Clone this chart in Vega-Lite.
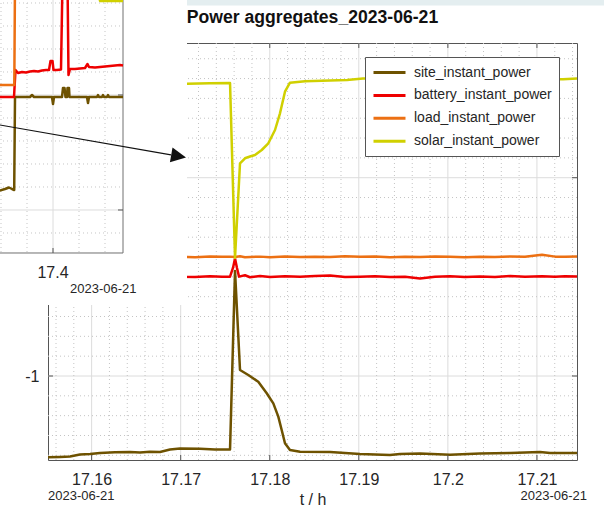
{
  "$schema": "https://vega.github.io/schema/vega-lite/v6.json",
  "width": 529,
  "height": 417,
  "autosize": {"type": "none"},
  "padding": {"left": 48, "top": 43, "right": 27, "bottom": 49},
  "background": "white",
  "config": {"view": {"stroke": "#555555", "strokeWidth": 1}, "font": "Liberation Sans"},
  "datasets": {
    "main": [
      {"series": "site_instant_power", "t": 17.15510, "v": -1.410},
      {"series": "site_instant_power", "t": 17.15645, "v": -1.408},
      {"series": "site_instant_power", "t": 17.15757, "v": -1.406},
      {"series": "site_instant_power", "t": 17.15869, "v": -1.396},
      {"series": "site_instant_power", "t": 17.15982, "v": -1.393},
      {"series": "site_instant_power", "t": 17.16094, "v": -1.388},
      {"series": "site_instant_power", "t": 17.16262, "v": -1.385},
      {"series": "site_instant_power", "t": 17.16431, "v": -1.383},
      {"series": "site_instant_power", "t": 17.16543, "v": -1.386},
      {"series": "site_instant_power", "t": 17.16655, "v": -1.382},
      {"series": "site_instant_power", "t": 17.16768, "v": -1.383},
      {"series": "site_instant_power", "t": 17.16880, "v": -1.371},
      {"series": "site_instant_power", "t": 17.16992, "v": -1.366},
      {"series": "site_instant_power", "t": 17.17217, "v": -1.367},
      {"series": "site_instant_power", "t": 17.17385, "v": -1.371},
      {"series": "site_instant_power", "t": 17.17554, "v": -1.371},
      {"series": "site_instant_power", "t": 17.17610, "v": -0.470},
      {"series": "site_instant_power", "t": 17.17666, "v": -0.970},
      {"series": "site_instant_power", "t": 17.17759, "v": -0.995},
      {"series": "site_instant_power", "t": 17.17871, "v": -1.029},
      {"series": "site_instant_power", "t": 17.17966, "v": -1.087},
      {"series": "site_instant_power", "t": 17.18040, "v": -1.138},
      {"series": "site_instant_power", "t": 17.18096, "v": -1.205},
      {"series": "site_instant_power", "t": 17.18134, "v": -1.272},
      {"series": "site_instant_power", "t": 17.18171, "v": -1.339},
      {"series": "site_instant_power", "t": 17.18227, "v": -1.373},
      {"series": "site_instant_power", "t": 17.18340, "v": -1.382},
      {"series": "site_instant_power", "t": 17.18677, "v": -1.383},
      {"series": "site_instant_power", "t": 17.19013, "v": -1.393},
      {"series": "site_instant_power", "t": 17.19182, "v": -1.396},
      {"series": "site_instant_power", "t": 17.19350, "v": -1.398},
      {"series": "site_instant_power", "t": 17.19463, "v": -1.393},
      {"series": "site_instant_power", "t": 17.19687, "v": -1.391},
      {"series": "site_instant_power", "t": 17.20024, "v": -1.397},
      {"series": "site_instant_power", "t": 17.20361, "v": -1.391},
      {"series": "site_instant_power", "t": 17.20698, "v": -1.388},
      {"series": "site_instant_power", "t": 17.21035, "v": -1.383},
      {"series": "site_instant_power", "t": 17.21147, "v": -1.388},
      {"series": "site_instant_power", "t": 17.21450, "v": -1.388},
      {"series": "battery_instant_power", "t": 17.15510, "v": -0.497},
      {"series": "battery_instant_power", "t": 17.15645, "v": -0.501},
      {"series": "battery_instant_power", "t": 17.15813, "v": -0.496},
      {"series": "battery_instant_power", "t": 17.15982, "v": -0.500},
      {"series": "battery_instant_power", "t": 17.16150, "v": -0.498},
      {"series": "battery_instant_power", "t": 17.16319, "v": -0.502},
      {"series": "battery_instant_power", "t": 17.16487, "v": -0.497},
      {"series": "battery_instant_power", "t": 17.16655, "v": -0.500},
      {"series": "battery_instant_power", "t": 17.16824, "v": -0.495},
      {"series": "battery_instant_power", "t": 17.16992, "v": -0.499},
      {"series": "battery_instant_power", "t": 17.17161, "v": -0.501},
      {"series": "battery_instant_power", "t": 17.17329, "v": -0.497},
      {"series": "battery_instant_power", "t": 17.17464, "v": -0.500},
      {"series": "battery_instant_power", "t": 17.17554, "v": -0.499},
      {"series": "battery_instant_power", "t": 17.17587, "v": -0.455},
      {"series": "battery_instant_power", "t": 17.17610, "v": -0.408},
      {"series": "battery_instant_power", "t": 17.17632, "v": -0.455},
      {"series": "battery_instant_power", "t": 17.17655, "v": -0.499},
      {"series": "battery_instant_power", "t": 17.17722, "v": -0.492},
      {"series": "battery_instant_power", "t": 17.17778, "v": -0.502},
      {"series": "battery_instant_power", "t": 17.17891, "v": -0.496},
      {"series": "battery_instant_power", "t": 17.18003, "v": -0.501},
      {"series": "battery_instant_power", "t": 17.18171, "v": -0.497},
      {"series": "battery_instant_power", "t": 17.18340, "v": -0.500},
      {"series": "battery_instant_power", "t": 17.18508, "v": -0.496},
      {"series": "battery_instant_power", "t": 17.18677, "v": -0.493},
      {"series": "battery_instant_power", "t": 17.18845, "v": -0.501},
      {"series": "battery_instant_power", "t": 17.19013, "v": -0.499},
      {"series": "battery_instant_power", "t": 17.19182, "v": -0.497},
      {"series": "battery_instant_power", "t": 17.19350, "v": -0.501},
      {"series": "battery_instant_power", "t": 17.19519, "v": -0.499},
      {"series": "battery_instant_power", "t": 17.19687, "v": -0.508},
      {"series": "battery_instant_power", "t": 17.19856, "v": -0.500},
      {"series": "battery_instant_power", "t": 17.20024, "v": -0.497},
      {"series": "battery_instant_power", "t": 17.20193, "v": -0.501},
      {"series": "battery_instant_power", "t": 17.20361, "v": -0.498},
      {"series": "battery_instant_power", "t": 17.20529, "v": -0.501},
      {"series": "battery_instant_power", "t": 17.20698, "v": -0.496},
      {"series": "battery_instant_power", "t": 17.20866, "v": -0.500},
      {"series": "battery_instant_power", "t": 17.21057, "v": -0.497},
      {"series": "battery_instant_power", "t": 17.21203, "v": -0.500},
      {"series": "battery_instant_power", "t": 17.21315, "v": -0.497},
      {"series": "battery_instant_power", "t": 17.21450, "v": -0.498},
      {"series": "load_instant_power", "t": 17.15510, "v": -0.399},
      {"series": "load_instant_power", "t": 17.15645, "v": -0.396},
      {"series": "load_instant_power", "t": 17.15813, "v": -0.400},
      {"series": "load_instant_power", "t": 17.15982, "v": -0.397},
      {"series": "load_instant_power", "t": 17.16150, "v": -0.401},
      {"series": "load_instant_power", "t": 17.16319, "v": -0.397},
      {"series": "load_instant_power", "t": 17.16487, "v": -0.399},
      {"series": "load_instant_power", "t": 17.16655, "v": -0.396},
      {"series": "load_instant_power", "t": 17.16824, "v": -0.400},
      {"series": "load_instant_power", "t": 17.16992, "v": -0.398},
      {"series": "load_instant_power", "t": 17.17161, "v": -0.401},
      {"series": "load_instant_power", "t": 17.17329, "v": -0.397},
      {"series": "load_instant_power", "t": 17.17464, "v": -0.399},
      {"series": "load_instant_power", "t": 17.17554, "v": -0.398},
      {"series": "load_instant_power", "t": 17.17610, "v": -0.400},
      {"series": "load_instant_power", "t": 17.17666, "v": -0.396},
      {"series": "load_instant_power", "t": 17.17722, "v": -0.401},
      {"series": "load_instant_power", "t": 17.17891, "v": -0.398},
      {"series": "load_instant_power", "t": 17.18003, "v": -0.401},
      {"series": "load_instant_power", "t": 17.18171, "v": -0.397},
      {"series": "load_instant_power", "t": 17.18340, "v": -0.400},
      {"series": "load_instant_power", "t": 17.18508, "v": -0.398},
      {"series": "load_instant_power", "t": 17.18677, "v": -0.400},
      {"series": "load_instant_power", "t": 17.18845, "v": -0.396},
      {"series": "load_instant_power", "t": 17.19013, "v": -0.399},
      {"series": "load_instant_power", "t": 17.19182, "v": -0.397},
      {"series": "load_instant_power", "t": 17.19350, "v": -0.401},
      {"series": "load_instant_power", "t": 17.19519, "v": -0.398},
      {"series": "load_instant_power", "t": 17.19687, "v": -0.400},
      {"series": "load_instant_power", "t": 17.19856, "v": -0.397},
      {"series": "load_instant_power", "t": 17.20024, "v": -0.399},
      {"series": "load_instant_power", "t": 17.20193, "v": -0.401},
      {"series": "load_instant_power", "t": 17.20361, "v": -0.398},
      {"series": "load_instant_power", "t": 17.20529, "v": -0.400},
      {"series": "load_instant_power", "t": 17.20698, "v": -0.397},
      {"series": "load_instant_power", "t": 17.20866, "v": -0.399},
      {"series": "load_instant_power", "t": 17.21057, "v": -0.388},
      {"series": "load_instant_power", "t": 17.21203, "v": -0.398},
      {"series": "load_instant_power", "t": 17.21315, "v": -0.399},
      {"series": "load_instant_power", "t": 17.21450, "v": -0.397},
      {"series": "solar_instant_power", "t": 17.15510, "v": 0.468},
      {"series": "solar_instant_power", "t": 17.16094, "v": 0.470},
      {"series": "solar_instant_power", "t": 17.16655, "v": 0.472},
      {"series": "solar_instant_power", "t": 17.17071, "v": 0.474},
      {"series": "solar_instant_power", "t": 17.17329, "v": 0.476},
      {"series": "solar_instant_power", "t": 17.17554, "v": 0.478},
      {"series": "solar_instant_power", "t": 17.17610, "v": -0.405},
      {"series": "solar_instant_power", "t": 17.17666, "v": 0.0726},
      {"series": "solar_instant_power", "t": 17.17722, "v": 0.098},
      {"series": "solar_instant_power", "t": 17.17778, "v": 0.107},
      {"series": "solar_instant_power", "t": 17.17834, "v": 0.1145},
      {"series": "solar_instant_power", "t": 17.17910, "v": 0.1397},
      {"series": "solar_instant_power", "t": 17.17984, "v": 0.1735},
      {"series": "solar_instant_power", "t": 17.18059, "v": 0.2405},
      {"series": "solar_instant_power", "t": 17.18115, "v": 0.3248},
      {"series": "solar_instant_power", "t": 17.18171, "v": 0.4337},
      {"series": "solar_instant_power", "t": 17.18227, "v": 0.479},
      {"series": "solar_instant_power", "t": 17.18396, "v": 0.487},
      {"series": "solar_instant_power", "t": 17.18677, "v": 0.490},
      {"series": "solar_instant_power", "t": 17.18868, "v": 0.493},
      {"series": "solar_instant_power", "t": 17.19047, "v": 0.500},
      {"series": "solar_instant_power", "t": 17.20024, "v": 0.500},
      {"series": "solar_instant_power", "t": 17.21293, "v": 0.496},
      {"series": "solar_instant_power", "t": 17.21450, "v": 0.500}
    ],
    "inset": [
      {"series": "site_instant_power", "ti": 17.35769, "vi": -0.83478},
      {"series": "site_instant_power", "ti": 17.36308, "vi": -0.81739},
      {"series": "site_instant_power", "ti": 17.36615, "vi": -0.80435},
      {"series": "site_instant_power", "ti": 17.36846, "vi": -0.81739},
      {"series": "site_instant_power", "ti": 17.37015, "vi": -0.82609},
      {"series": "site_instant_power", "ti": 17.37077, "vi": -0.01739},
      {"series": "site_instant_power", "ti": 17.38231, "vi": -0.01739},
      {"series": "site_instant_power", "ti": 17.38385, "vi": 0.0},
      {"series": "site_instant_power", "ti": 17.38538, "vi": -0.01739},
      {"series": "site_instant_power", "ti": 17.39923, "vi": -0.01739},
      {"series": "site_instant_power", "ti": 17.40000, "vi": -0.07826},
      {"series": "site_instant_power", "ti": 17.40077, "vi": -0.01739},
      {"series": "site_instant_power", "ti": 17.40692, "vi": -0.01739},
      {"series": "site_instant_power", "ti": 17.40769, "vi": 0.06087},
      {"series": "site_instant_power", "ti": 17.40885, "vi": 0.06087},
      {"series": "site_instant_power", "ti": 17.40962, "vi": -0.01739},
      {"series": "site_instant_power", "ti": 17.41077, "vi": -0.01739},
      {"series": "site_instant_power", "ti": 17.41115, "vi": 0.06087},
      {"series": "site_instant_power", "ti": 17.41231, "vi": 0.06087},
      {"series": "site_instant_power", "ti": 17.41269, "vi": -0.01739},
      {"series": "site_instant_power", "ti": 17.42615, "vi": -0.01739},
      {"series": "site_instant_power", "ti": 17.42692, "vi": -0.06957},
      {"series": "site_instant_power", "ti": 17.42769, "vi": -0.01739},
      {"series": "site_instant_power", "ti": 17.43385, "vi": -0.01739},
      {"series": "site_instant_power", "ti": 17.43462, "vi": 0.0},
      {"series": "site_instant_power", "ti": 17.43538, "vi": -0.01739},
      {"series": "site_instant_power", "ti": 17.43769, "vi": -0.01739},
      {"series": "site_instant_power", "ti": 17.43846, "vi": 0.0},
      {"series": "site_instant_power", "ti": 17.43923, "vi": -0.01739},
      {"series": "site_instant_power", "ti": 17.44154, "vi": -0.01739},
      {"series": "site_instant_power", "ti": 17.44231, "vi": 0.0},
      {"series": "site_instant_power", "ti": 17.44308, "vi": -0.01739},
      {"series": "site_instant_power", "ti": 17.45385, "vi": -0.01739},
      {"series": "battery_instant_power", "ti": 17.35769, "vi": -0.01739},
      {"series": "battery_instant_power", "ti": 17.37000, "vi": -0.01739},
      {"series": "battery_instant_power", "ti": 17.37115, "vi": 0.21739},
      {"series": "battery_instant_power", "ti": 17.37308, "vi": 0.19130},
      {"series": "battery_instant_power", "ti": 17.37615, "vi": 0.20000},
      {"series": "battery_instant_power", "ti": 17.37923, "vi": 0.19565},
      {"series": "battery_instant_power", "ti": 17.38231, "vi": 0.20435},
      {"series": "battery_instant_power", "ti": 17.38538, "vi": 0.20870},
      {"series": "battery_instant_power", "ti": 17.38846, "vi": 0.20435},
      {"series": "battery_instant_power", "ti": 17.39154, "vi": 0.21304},
      {"series": "battery_instant_power", "ti": 17.39462, "vi": 0.21739},
      {"series": "battery_instant_power", "ti": 17.39692, "vi": 0.21739},
      {"series": "battery_instant_power", "ti": 17.39808, "vi": 0.29565},
      {"series": "battery_instant_power", "ti": 17.39962, "vi": 0.29565},
      {"series": "battery_instant_power", "ti": 17.40038, "vi": 0.21739},
      {"series": "battery_instant_power", "ti": 17.40308, "vi": 0.21739},
      {"series": "battery_instant_power", "ti": 17.40615, "vi": 0.22174},
      {"series": "battery_instant_power", "ti": 17.40731, "vi": 1.0},
      {"series": "battery_instant_power", "ti": 17.41115, "vi": 1.0},
      {"series": "battery_instant_power", "ti": 17.41192, "vi": 0.17391},
      {"series": "battery_instant_power", "ti": 17.41308, "vi": 0.22609},
      {"series": "battery_instant_power", "ti": 17.41692, "vi": 0.22609},
      {"series": "battery_instant_power", "ti": 17.42077, "vi": 0.23043},
      {"series": "battery_instant_power", "ti": 17.42462, "vi": 0.23478},
      {"series": "battery_instant_power", "ti": 17.42654, "vi": 0.26957},
      {"series": "battery_instant_power", "ti": 17.42769, "vi": 0.24348},
      {"series": "battery_instant_power", "ti": 17.43231, "vi": 0.23913},
      {"series": "battery_instant_power", "ti": 17.43615, "vi": 0.24348},
      {"series": "battery_instant_power", "ti": 17.44000, "vi": 0.24783},
      {"series": "battery_instant_power", "ti": 17.44385, "vi": 0.25217},
      {"series": "battery_instant_power", "ti": 17.44769, "vi": 0.25652},
      {"series": "battery_instant_power", "ti": 17.45154, "vi": 0.26087},
      {"series": "battery_instant_power", "ti": 17.45385, "vi": 0.25652},
      {"series": "load_instant_power", "ti": 17.35769, "vi": 0.08696},
      {"series": "load_instant_power", "ti": 17.37023, "vi": 0.08696},
      {"series": "load_instant_power", "ti": 17.37077, "vi": 1.0},
      {"series": "solar_instant_power", "ti": 17.43462, "vi": 1.0},
      {"series": "solar_instant_power", "ti": 17.43615, "vi": 0.81739},
      {"series": "solar_instant_power", "ti": 17.45385, "vi": 0.81739}
    ],
    "mgx": [
      {"t": 17.156}, {"t": 17.158}, {"t": 17.162}, {"t": 17.164}, {"t": 17.166}, {"t": 17.168},
      {"t": 17.172}, {"t": 17.174}, {"t": 17.176}, {"t": 17.178}, {"t": 17.182}, {"t": 17.184},
      {"t": 17.186}, {"t": 17.188}, {"t": 17.192}, {"t": 17.194}, {"t": 17.196}, {"t": 17.198},
      {"t": 17.202}, {"t": 17.204}, {"t": 17.206}, {"t": 17.208}, {"t": 17.212}, {"t": 17.214}
    ],
    "mgy": [
      {"v": -1.4}, {"v": -1.3}, {"v": -1.2}, {"v": -1.1}, {"v": -0.9}, {"v": -0.8}, {"v": -0.7},
      {"v": -0.6}, {"v": -0.5}, {"v": -0.4}, {"v": -0.3}, {"v": -0.2}, {"v": -0.1}, {"v": 0.1},
      {"v": 0.2}, {"v": 0.3}, {"v": 0.4}, {"v": 0.5}, {"v": 0.6}
    ],
    "majx": [{"t": 17.16}, {"t": 17.17}, {"t": 17.18}, {"t": 17.19}, {"t": 17.2}, {"t": 17.21}],
    "majy": [{"v": -1}, {"v": 0}],
    "igx": [{"ti": 17.36}, {"ti": 17.38}, {"ti": 17.42}, {"ti": 17.44}],
    "igxm": [{"ti": 17.4}],
    "igy": [{"vi": -1.2}, {"vi": -0.8}, {"vi": -0.6}, {"vi": -0.4}, {"vi": -0.2}, {"vi": 0.2}, {"vi": 0.4}, {"vi": 0.6}, {"vi": 0.8}],
    "igym": [{"vi": -1}, {"vi": 0}],
    "one": [{}]
  },
  "layer": [
    {
      "data": {"name": "majx"},
      "mark": {"type": "rule", "stroke": "#dcdcdc", "strokeWidth": 1},
      "encoding": {
        "x": {"field": "t", "type": "quantitative", "scale": {"domain": [17.1551, 17.2145], "nice": false, "zero": false}, "axis": null}
      }
    },
    {
      "data": {"name": "majy"},
      "mark": {"type": "rule", "stroke": "#dcdcdc", "strokeWidth": 1},
      "encoding": {
        "y": {"field": "v", "type": "quantitative", "scale": {"domain": [-1.4236, 0.6793], "nice": false, "zero": false}, "axis": null}
      }
    },
    {
      "data": {"name": "mgx"},
      "mark": {"type": "rule", "stroke": "#c4c4c4", "strokeDash": [1, 3], "strokeWidth": 1},
      "encoding": {
        "x": {"field": "t", "type": "quantitative", "scale": {"domain": [17.1551, 17.2145], "nice": false, "zero": false}, "axis": null}
      }
    },
    {
      "data": {"name": "mgy"},
      "mark": {"type": "rule", "stroke": "#c4c4c4", "strokeDash": [1, 3], "strokeWidth": 1},
      "encoding": {
        "y": {"field": "v", "type": "quantitative", "scale": {"domain": [-1.4236, 0.6793], "nice": false, "zero": false}, "axis": null}
      }
    },
    {
      "data": {"name": "main"},
      "mark": {"type": "line", "strokeWidth": 2.5, "strokeJoin": "round"},
      "encoding": {
        "x": {
          "field": "t", "type": "quantitative",
          "scale": {"domain": [17.1551, 17.2145], "nice": false, "zero": false},
          "axis": {
            "orient": "bottom",
            "values": [17.16, 17.17, 17.18, 17.19, 17.2, 17.21],
            "labelExpr": "format(datum.value, '.2~f')",
            "ticks": false, "domain": false, "grid": false,
            "labelFont": "Liberation Sans", "labelFontSize": 16, "labelColor": "#262626",
            "labelPadding": 11.5,
            "title": "t / h", "titleFont": "Liberation Sans", "titleFontSize": 16,
            "titleFontWeight": "normal", "titleColor": "#262626", "titlePadding": 4
          }
        },
        "y": {
          "field": "v", "type": "quantitative",
          "scale": {"domain": [-1.4236, 0.6793], "nice": false, "zero": false},
          "axis": {
            "orient": "left",
            "values": [-1, 0],
            "labelExpr": "'' + datum.value",
            "ticks": false, "domain": false, "grid": false,
            "labelFont": "Liberation Sans", "labelFontSize": 16, "labelColor": "#262626",
            "labelPadding": 9, "title": null
          }
        },
        "color": {
          "field": "series", "type": "nominal",
          "scale": {
            "domain": ["site_instant_power", "battery_instant_power", "load_instant_power", "solar_instant_power"],
            "range": ["#6e5200", "#ee0000", "#ec7013", "#d0d000"]
          },
          "legend": {
            "orient": "none", "legendX": 317, "legendY": 14, "title": null,
            "fillColor": "white", "strokeColor": "#555555", "padding": 7,
            "symbolType": "M-1,0L3.571,0", "symbolSize": 196, "symbolStrokeWidth": 3,
            "labelFont": "Liberation Sans", "labelFontSize": 14, "labelColor": "#262626",
            "labelOffset": 25, "rowPadding": 6.9, "labelLimit": 300
          }
        }
      }
    },
    {
      "data": {"name": "majx"},
      "mark": {"type": "rule", "stroke": "#555555", "strokeWidth": 1},
      "encoding": {
        "x": {"field": "t", "type": "quantitative", "scale": {"domain": [17.1551, 17.2145], "nice": false, "zero": false}, "axis": null},
        "y": {"datum": -1.4236, "scale": {"domain": [-1.4236, 0.6793], "nice": false, "zero": false}, "axis": null},
        "y2": {"datum": -1.3984}
      }
    },
    {
      "data": {"name": "majx"},
      "mark": {"type": "rule", "stroke": "#555555", "strokeWidth": 1},
      "encoding": {
        "x": {"field": "t", "type": "quantitative", "scale": {"domain": [17.1551, 17.2145], "nice": false, "zero": false}, "axis": null},
        "y": {"datum": 0.6793, "scale": {"domain": [-1.4236, 0.6793], "nice": false, "zero": false}, "axis": null},
        "y2": {"datum": 0.6541}
      }
    },
    {
      "data": {"name": "majy"},
      "mark": {"type": "rule", "stroke": "#555555", "strokeWidth": 1},
      "encoding": {
        "y": {"field": "v", "type": "quantitative", "scale": {"domain": [-1.4236, 0.6793], "nice": false, "zero": false}, "axis": null},
        "x": {"datum": 17.2145, "scale": {"domain": [17.1551, 17.2145], "nice": false, "zero": false}, "axis": null},
        "x2": {"datum": 17.21394}
      }
    },
    {
      "data": {"name": "majy"},
      "mark": {"type": "rule", "stroke": "#555555", "strokeWidth": 1},
      "encoding": {
        "y": {"field": "v", "type": "quantitative", "scale": {"domain": [-1.4236, 0.6793], "nice": false, "zero": false}, "axis": null},
        "x": {"datum": 17.1551, "scale": {"domain": [17.1551, 17.2145], "nice": false, "zero": false}, "axis": null},
        "x2": {"datum": 17.15566}
      }
    },
    {
      "data": {"name": "one"},
      "mark": {"type": "text", "text": "Power aggregates_2023-06-21", "font": "Liberation Sans", "fontSize": 17.6, "fontWeight": "bold", "align": "center", "baseline": "alphabetic", "color": "#111111"},
      "encoding": {
        "x": {"datum": 17.1848, "scale": {"domain": [17.1551, 17.2145], "nice": false, "zero": false}, "axis": null},
        "y": {"datum": 0.7817, "scale": {"domain": [-1.4236, 0.6793], "nice": false, "zero": false}, "axis": null}
      }
    },
    {
      "data": {"name": "one"},
      "mark": {"type": "text", "text": "2023-06-21", "font": "Liberation Sans", "fontSize": 13, "align": "left", "baseline": "alphabetic", "color": "#262626"},
      "encoding": {
        "x": {"datum": 17.1551, "scale": {"domain": [17.1551, 17.2145], "nice": false, "zero": false}, "axis": null},
        "y": {"datum": -1.6228, "scale": {"domain": [-1.4236, 0.6793], "nice": false, "zero": false}, "axis": null}
      }
    },
    {
      "data": {"name": "one"},
      "mark": {"type": "text", "text": "2023-06-21", "font": "Liberation Sans", "fontSize": 13, "align": "right", "baseline": "alphabetic", "color": "#262626"},
      "encoding": {
        "x": {"datum": 17.21562, "scale": {"domain": [17.1551, 17.2145], "nice": false, "zero": false}, "axis": null},
        "y": {"datum": -1.6228, "scale": {"domain": [-1.4236, 0.6793], "nice": false, "zero": false}, "axis": null}
      }
    },
    {
      "data": {"name": "one"},
      "mark": {"type": "rect", "fill": "white"},
      "encoding": {
        "x": {"datum": 17.35538, "scale": {"domain": [17.39615, 17.80308], "nice": false, "zero": false}, "axis": null},
        "x2": {"datum": 17.50308},
        "y": {"datum": 0.86957, "scale": {"domain": [-3.17391, 0.45217], "nice": false, "zero": false}, "axis": null},
        "y2": {"datum": -1.82609}
      }
    },
    {
      "data": {"name": "one"},
      "mark": {"type": "rect", "fill": "#e4eef0"},
      "encoding": {
        "x": {"datum": 17.50308, "scale": {"domain": [17.39615, 17.80308], "nice": false, "zero": false}, "axis": null},
        "x2": {"datum": 17.82846},
        "y": {"datum": 0.86957, "scale": {"domain": [-3.17391, 0.45217], "nice": false, "zero": false}, "axis": null},
        "y2": {"datum": 0.77826}
      }
    },
    {
      "data": {"name": "igx"},
      "mark": {"type": "rule", "stroke": "#c4c4c4", "strokeDash": [1, 3], "strokeWidth": 1},
      "encoding": {
        "x": {"field": "ti", "type": "quantitative", "scale": {"domain": [17.39615, 17.80308], "nice": false, "zero": false}, "axis": null},
        "y": {"datum": 0.86957, "scale": {"domain": [-3.17391, 0.45217], "nice": false, "zero": false}, "axis": null},
        "y2": {"datum": -1.37391}
      }
    },
    {
      "data": {"name": "igxm"},
      "mark": {"type": "rule", "stroke": "#dcdcdc", "strokeWidth": 1},
      "encoding": {
        "x": {"field": "ti", "type": "quantitative", "scale": {"domain": [17.39615, 17.80308], "nice": false, "zero": false}, "axis": null},
        "y": {"datum": 0.86957, "scale": {"domain": [-3.17391, 0.45217], "nice": false, "zero": false}, "axis": null},
        "y2": {"datum": -1.37391}
      }
    },
    {
      "data": {"name": "igy"},
      "mark": {"type": "rule", "stroke": "#c4c4c4", "strokeDash": [1, 3], "strokeWidth": 1},
      "encoding": {
        "y": {"field": "vi", "type": "quantitative", "scale": {"domain": [-3.17391, 0.45217], "nice": false, "zero": false}, "axis": null},
        "x": {"datum": 17.35538, "scale": {"domain": [17.39615, 17.80308], "nice": false, "zero": false}, "axis": null},
        "x2": {"datum": 17.45385}
      }
    },
    {
      "data": {"name": "igym"},
      "mark": {"type": "rule", "stroke": "#dcdcdc", "strokeWidth": 1},
      "encoding": {
        "y": {"field": "vi", "type": "quantitative", "scale": {"domain": [-3.17391, 0.45217], "nice": false, "zero": false}, "axis": null},
        "x": {"datum": 17.35538, "scale": {"domain": [17.39615, 17.80308], "nice": false, "zero": false}, "axis": null},
        "x2": {"datum": 17.45385}
      }
    },
    {
      "data": {"name": "one"},
      "mark": {"type": "rule", "stroke": "#707070", "strokeWidth": 1},
      "encoding": {
        "x": {"datum": 17.45385, "scale": {"domain": [17.39615, 17.80308], "nice": false, "zero": false}, "axis": null},
        "y": {"datum": 0.86957, "scale": {"domain": [-3.17391, 0.45217], "nice": false, "zero": false}, "axis": null},
        "y2": {"datum": -1.37391}
      }
    },
    {
      "data": {"name": "one"},
      "mark": {"type": "rule", "stroke": "#707070", "strokeWidth": 1},
      "encoding": {
        "x": {"datum": 17.35538, "scale": {"domain": [17.39615, 17.80308], "nice": false, "zero": false}, "axis": null},
        "x2": {"datum": 17.45385},
        "y": {"datum": -1.37391, "scale": {"domain": [-3.17391, 0.45217], "nice": false, "zero": false}, "axis": null}
      }
    },
    {
      "data": {"name": "igxm"},
      "mark": {"type": "rule", "stroke": "#555555", "strokeWidth": 1},
      "encoding": {
        "x": {"field": "ti", "type": "quantitative", "scale": {"domain": [17.39615, 17.80308], "nice": false, "zero": false}, "axis": null},
        "y": {"datum": -1.37391, "scale": {"domain": [-3.17391, 0.45217], "nice": false, "zero": false}, "axis": null},
        "y2": {"datum": -1.33043}
      }
    },
    {
      "data": {"name": "igym"},
      "mark": {"type": "rule", "stroke": "#555555", "strokeWidth": 1},
      "encoding": {
        "y": {"field": "vi", "type": "quantitative", "scale": {"domain": [-3.17391, 0.45217], "nice": false, "zero": false}, "axis": null},
        "x": {"datum": 17.45385, "scale": {"domain": [17.39615, 17.80308], "nice": false, "zero": false}, "axis": null},
        "x2": {"datum": 17.45}
      }
    },
    {
      "data": {"name": "inset"},
      "mark": {"type": "line", "strokeWidth": 2.5, "strokeJoin": "round"},
      "encoding": {
        "x": {"field": "ti", "type": "quantitative", "scale": {"domain": [17.39615, 17.80308], "nice": false, "zero": false}, "axis": null},
        "y": {"field": "vi", "type": "quantitative", "scale": {"domain": [-3.17391, 0.45217], "nice": false, "zero": false}, "axis": null},
        "color": {
          "field": "series", "type": "nominal",
          "scale": {
            "domain": ["site_instant_power", "battery_instant_power", "load_instant_power", "solar_instant_power"],
            "range": ["#6e5200", "#ee0000", "#ec7013", "#d0d000"]
          },
          "legend": null
        }
      }
    },
    {
      "data": {"name": "one"},
      "mark": {"type": "text", "text": "17.4", "font": "Liberation Sans", "fontSize": 16, "align": "center", "baseline": "alphabetic", "color": "#262626"},
      "encoding": {
        "x": {"datum": 17.4, "scale": {"domain": [17.39615, 17.80308], "nice": false, "zero": false}, "axis": null},
        "y": {"datum": -1.59391, "scale": {"domain": [-3.17391, 0.45217], "nice": false, "zero": false}, "axis": null}
      }
    },
    {
      "data": {"name": "one"},
      "mark": {"type": "text", "text": "2023-06-21", "font": "Liberation Sans", "fontSize": 13, "align": "left", "baseline": "alphabetic", "color": "#262626"},
      "encoding": {
        "x": {"datum": 17.41308, "scale": {"domain": [17.39615, 17.80308], "nice": false, "zero": false}, "axis": null},
        "y": {"datum": -1.71913, "scale": {"domain": [-3.17391, 0.45217], "nice": false, "zero": false}, "axis": null}
      }
    },
    {
      "data": {"name": "one"},
      "mark": {"type": "rule", "stroke": "#111111", "strokeWidth": 1.2},
      "encoding": {
        "x": {"datum": 17.35769, "scale": {"domain": [17.39615, 17.80308], "nice": false, "zero": false}, "axis": null},
        "x2": {"datum": 17.49077},
        "y": {"datum": -0.25783, "scale": {"domain": [-3.17391, 0.45217], "nice": false, "zero": false}, "axis": null},
        "y2": {"datum": -0.52087}
      }
    },
    {
      "data": {"name": "one"},
      "mark": {"type": "point", "shape": "M1,0L-1,-1L-1,1Z", "size": 225, "angle": 10, "filled": true, "color": "#111111", "opacity": 1, "strokeWidth": 0},
      "encoding": {
        "x": {"datum": 17.49662, "scale": {"domain": [17.39615, 17.80308], "nice": false, "zero": false}, "axis": null},
        "y": {"datum": -0.53217, "scale": {"domain": [-3.17391, 0.45217], "nice": false, "zero": false}, "axis": null}
      }
    }
  ],
  "resolve": {"scale": {"x": "independent", "y": "independent", "color": "independent"}}
}
